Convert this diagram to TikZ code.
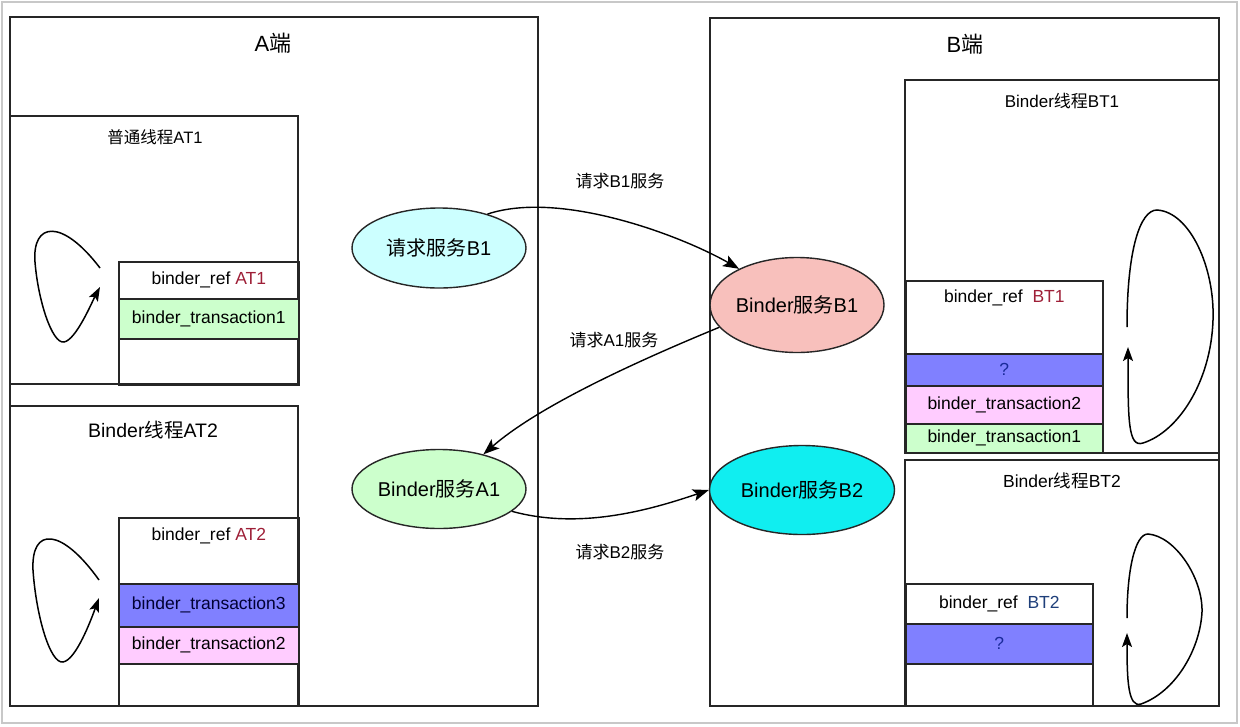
\documentclass[tikz,border=0pt]{standalone}
\usepackage{fontspec}
\setmainfont{Liberation Sans}
\newfontfamily\cjk{Noto Sans CJK SC}
\newcommand{\zh}[1]{{\cjk #1}}
\newcommand{\fsz}[1]{\fontsize{#1}{#1}\selectfont}
\usetikzlibrary{shapes.geometric,arrows.meta}

\definecolor{rowgreen}{HTML}{CCFFCC}
\definecolor{rowpink}{HTML}{FFCCFF}
\definecolor{rowblue}{HTML}{8080FF}
\definecolor{svccyan}{HTML}{CCFFFF}
\definecolor{svcpink}{HTML}{F8C0BC}
\definecolor{svcaqua}{HTML}{10EEF0}
\definecolor{refred}{HTML}{9E1F37}
\definecolor{refblue}{HTML}{1F3F7A}
\definecolor{qblue}{HTML}{1A2A9A}
\definecolor{framegray}{HTML}{C8C8C8}

\tikzset{
  box/.style={draw=black!85, line width=1.7pt},
  cell/.style={draw=black!85, line width=1.7pt, anchor=north west, inner sep=0pt, font=\fsz{17.5}},
  svc/.style={ellipse, draw=black!85, line width=1.4pt, inner sep=0pt, font=\fsz{20}},
  call/.style={line width=1.4pt, -{Stealth[length=16pt,width=12pt,inset=3.5pt]}},
  spin/.style={line width=1.5pt, -{Stealth[length=14pt,width=10pt,inset=3pt]}},
}

\begin{document}
\begin{tikzpicture}[x=1pt,y=-1pt]
  \useasboundingbox (0,0) rectangle (1240,726);
  \fill[white] (0,0) rectangle (1240,726);
  \draw[framegray, line width=1.5pt] (2,2) rectangle (1237,723);

  % A side
  \draw[box] (10,17) rectangle (538,706);
  \node[font=\fsz{22}] (aside) at (273,43) {A\zh{端}};

  \draw[box] (10,116) rectangle (298,384);
  \node[font=\fsz{16.5}] (at1) at (155,137) {\zh{普通线程}AT1};
  \node[cell, minimum width=180pt, minimum height=37pt] (at1ref) at (118,261) {binder\_ref \textcolor{refred}{AT1}};
  \node[cell, fill=rowgreen, minimum width=180pt, minimum height=40pt] (at1tx1) at (118,298) {binder\_transaction1};
  \node[cell, minimum width=180pt, minimum height=46pt] (at1nil) at (118,338) {};
  \draw[spin] (100,268) .. controls (62,218) and (32,222) .. (35,262)
    .. controls (38,300) and (52,344) .. (64,342) .. controls (76,340) and (92,302) .. (100,287);

  \draw[box] (10,406) rectangle (298,706);
  \node[font=\fsz{19.5}] (at2) at (153,430) {Binder\zh{线程}AT2};
  \node[cell, minimum width=180pt, minimum height=66pt] (at2ref) at (118,517) {};
  \node[font=\fsz{17.5}] (at2reftext) at ([yshift=-19pt]at2ref.north) {binder\_ref \textcolor{refred}{AT2}};
  \node[cell, fill=rowblue, text=black!80!blue, minimum width=180pt, minimum height=43pt] (at2tx3) at (118,583) {binder\_transaction3};
  \node[cell, fill=rowpink, minimum width=180pt, minimum height=37pt] (at2tx2) at (118,626) {binder\_transaction2};
  \node[cell, minimum width=180pt, minimum height=42pt] (at2nil) at (118,663) {};
  \draw[spin] (99,580) .. controls (62,528) and (31,526) .. (33,570)
    .. controls (36,615) and (50,664) .. (63,662) .. controls (76,660) and (91,620) .. (99,598);

  % B side
  \draw[box] (710,18) rectangle (1219,706);
  \node[font=\fsz{22}] (bside) at (965,44) {B\zh{端}};

  \draw[box] (905,80) rectangle (1219,453);
  \node[font=\fsz{17}] (bt1) at (1062,101) {Binder\zh{线程}BT1};
  \node[cell, minimum width=197pt, minimum height=73pt] (bt1ref) at (905,280) {};
  \node[font=\fsz{17.5}] (bt1reftext) at ([yshift=-18pt]bt1ref.north) {binder\_ref~~\textcolor{refred}{BT1}};
  \node[cell, fill=rowblue, text=qblue, minimum width=197pt, minimum height=32pt] (bt1q) at (905,353) {?};
  \node[cell, fill=rowpink, minimum width=197pt, minimum height=38pt] (bt1tx2) at (905,385) {binder\_transaction2};
  \node[cell, fill=rowgreen, minimum width=197pt, minimum height=29pt] (bt1tx1) at (905,423) {binder\_transaction1};
  \draw[spin] (1127,327) .. controls (1127,250) and (1140,210) .. (1157,210)
    .. controls (1190,212) and (1215,268) .. (1213,320)
    .. controls (1211,382) and (1178,432) .. (1143,443) .. controls (1128,448) and (1128,420) .. (1128,347);

  \draw[box] (905,460) rectangle (1219,706);
  \node[font=\fsz{17.5}] (bt2) at (1062,481) {Binder\zh{线程}BT2};
  \node[cell, minimum width=187pt, minimum height=40pt] (bt2ref) at (905,583) {binder\_ref~~\textcolor{refblue}{BT2}};
  \node[cell, fill=rowblue, text=qblue, minimum width=187pt, minimum height=40pt] (bt2q) at (905,623) {?};
  \node[cell, minimum width=187pt, minimum height=42pt] (bt2nil) at (905,663) {};
  \draw[spin] (1127,618) .. controls (1127,570) and (1135,534) .. (1148,534)
    .. controls (1175,536) and (1203,578) .. (1202,612)
    .. controls (1200,650) and (1175,692) .. (1141,704) .. controls (1128,708) and (1127,680) .. (1127,633);

  % services
  \node[svc, fill=svccyan, minimum width=174pt, minimum height=80pt] (qb1) at (439,248) {\zh{请求服务}B1};
  \node[svc, fill=rowgreen, minimum width=174pt, minimum height=79pt] (ab1) at (439,489) {Binder\zh{服务}A1};
  \node[svc, fill=svcpink, minimum width=174pt, minimum height=95pt] (bb1) at (797,305) {Binder\zh{服务}B1};
  \node[svc, fill=svcaqua, minimum width=185pt, minimum height=89pt] (bb2) at (802,490) {Binder\zh{服务}B2};

  \node[font=\fsz{17}] (lb1) at (620,181) {\zh{请求}B1\zh{服务}};
  \node[font=\fsz{17}] (la1) at (614,340) {\zh{请求}A1\zh{服务}};
  \node[font=\fsz{17}] (lb2) at (620,552) {\zh{请求}B2\zh{服务}};

  \draw[call] (qb1.35) .. controls (560,190) and (680,235) .. (bb1.148);
  \draw[call] (bb1.196) .. controls (640,360) and (540,405) .. (ab1.38);
  \draw[call] (ab1.343) .. controls (580,530) and (650,510) .. (bb2.180);
\end{tikzpicture}
\end{document}
